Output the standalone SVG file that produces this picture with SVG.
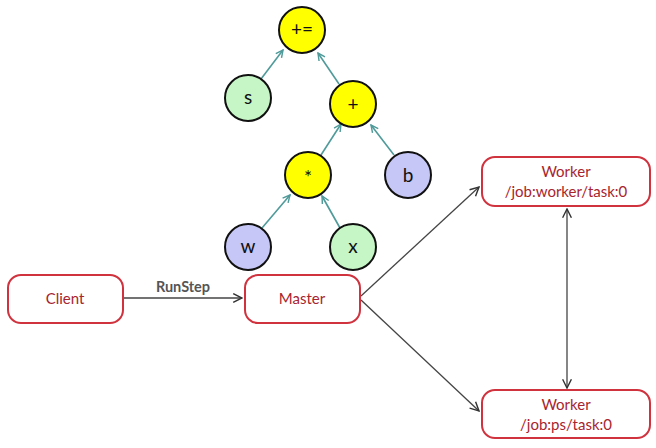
<svg xmlns="http://www.w3.org/2000/svg" width="656" height="448" viewBox="0 0 656 448">
<style>
.box{fill:#fff;stroke:#d0323e;stroke-width:2}
.bt{font-family:"Lato","Liberation Sans",sans-serif;font-size:15px;fill:#a8242e;text-anchor:middle}
.node{stroke:#111;stroke-width:2}
.op{fill:#ffff00}
.gr{fill:#c6f5c6}
.pu{fill:#c6c6f7}
.nt{font-family:"Lato","Liberation Sans",sans-serif;font-size:19px;fill:#111;text-anchor:middle}
.tea{stroke:#4f9a9a;stroke-width:1.6;fill:none}
.blk{stroke:#444;stroke-width:1.3;fill:none}
</style>
<defs>
<marker id="ta" viewBox="0 0 10 10" refX="9" refY="5" markerWidth="9" markerHeight="9" markerUnits="userSpaceOnUse" orient="auto"><path d="M1,1 L9,5 L1,9" fill="none" stroke="#4f9a9a" stroke-width="1.6"/></marker>
<marker id="ba" viewBox="0 0 10 10" refX="9" refY="5" markerWidth="11" markerHeight="11" markerUnits="userSpaceOnUse" orient="auto-start-reverse"><path d="M1,1 L9,5 L1,9" fill="none" stroke="#333" stroke-width="1.3"/></marker>
</defs>
<rect width="656" height="448" fill="#fff"/>
<g id="connectors">
<line class="tea" x1="261" y1="79" x2="283" y2="50" marker-end="url(#ta)"/>
<line class="tea" x1="339" y1="84" x2="318" y2="53" marker-end="url(#ta)"/>
<line class="tea" x1="321" y1="155" x2="341" y2="124" marker-end="url(#ta)"/>
<line class="tea" x1="394" y1="155" x2="371" y2="125" marker-end="url(#ta)"/>
<line class="tea" x1="262" y1="228" x2="290" y2="195" marker-end="url(#ta)"/>
<line class="tea" x1="340" y1="228" x2="322" y2="196" marker-end="url(#ta)"/>
<line class="blk" x1="123" y1="298" x2="242" y2="298" marker-end="url(#ba)"/>
<line class="blk" x1="361" y1="296" x2="479" y2="187" marker-end="url(#ba)"/>
<line class="blk" x1="361" y1="300" x2="479" y2="411" marker-end="url(#ba)"/>
<line class="blk" x1="567" y1="209" x2="567" y2="388" marker-start="url(#ba)" marker-end="url(#ba)"/>
<text x="183" y="292" font-family="Lato,'Liberation Sans',sans-serif" font-size="14.5" font-weight="bold" fill="#555" text-anchor="middle">RunStep</text>
</g>
<g id="n-pluseq"><circle class="node op" cx="302" cy="30" r="23"/><text class="nt" x="302" y="36">+=</text></g>
<g id="n-s"><circle class="node gr" cx="248" cy="98" r="23"/><text class="nt" x="248" y="104">s</text></g>
<g id="n-plus"><circle class="node op" cx="353" cy="104" r="23"/><text class="nt" x="353" y="111">+</text></g>
<g id="n-mul"><circle class="node op" cx="308" cy="175" r="23"/><text class="nt" x="308" y="184">*</text></g>
<g id="n-b"><circle class="node pu" cx="408" cy="175" r="23"/><text class="nt" x="408" y="182">b</text></g>
<g id="n-w"><circle class="node pu" cx="248" cy="247" r="23"/><text class="nt" x="248" y="253">w</text></g>
<g id="n-x"><circle class="node gr" cx="353" cy="247" r="23"/><text class="nt" x="353" y="253">x</text></g>
<g id="client"><rect class="box" x="8" y="275" width="115" height="48" rx="13"/><text class="bt" x="65" y="304">Client</text></g>
<g id="master"><rect class="box" x="245" y="275" width="115" height="48" rx="13"/><text class="bt" x="302" y="304">Master</text></g>
<g id="worker0"><rect class="box" x="482" y="157" width="168" height="49" rx="13"/><text class="bt" x="566" y="177">Worker</text><text class="bt" x="566" y="197">/job:worker/task:0</text></g>
<g id="ps0"><rect class="box" x="482" y="390" width="168" height="48" rx="13"/><text class="bt" x="566" y="410">Worker</text><text class="bt" x="566" y="430">/job:ps/task:0</text></g>
</svg>
